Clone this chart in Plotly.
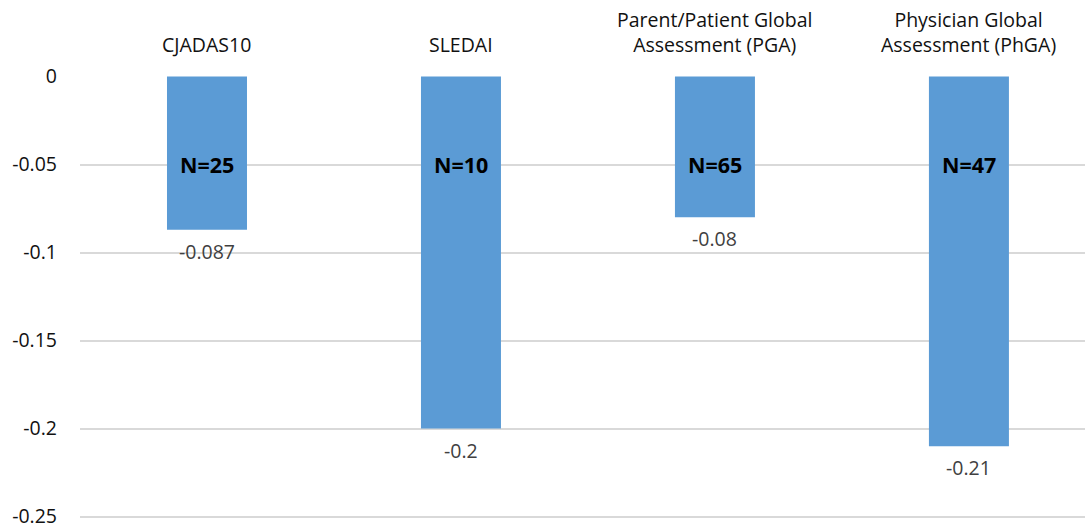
import plotly.graph_objects as go

categories = ["CJADAS10", "SLEDAI", "Parent/Patient Global<br>Assessment (PGA)",
              "Physician Global<br>Assessment (PhGA)"]
values = [-0.087, -0.2, -0.08, -0.21]
value_labels = ["-0.087", "-0.2", "-0.08", "-0.21"]
sample_sizes = ["N=25", "N=10", "N=65", "N=47"]
y_ticks = [0, -0.05, -0.1, -0.15, -0.2, -0.25]
y_tick_labels = ["0", "-0.05", "-0.1", "-0.15", "-0.2", "-0.25"]

FONT = "Open Sans, Liberation Sans, sans-serif"
positions = list(range(len(categories)))

fig = go.Figure()
fig.add_trace(go.Bar(
    x=positions, y=values, width=0.315,
    marker=dict(color="#5B9BD5", line=dict(width=0)),
    hoverinfo="skip",
))

annotations = []
for i, cat in enumerate(categories):
    # category title above the plot
    annotations.append(dict(
        x=i, y=1, xref="x", yref="paper", text=cat, showarrow=False,
        yanchor="bottom", yshift=16,
        font=dict(family=FONT, size=19.5, color="#111111"),
    ))
    # sample size inside the bar
    annotations.append(dict(
        x=i, y=-0.05, xref="x", yref="y", text="<b>" + sample_sizes[i] + "</b>",
        showarrow=False, font=dict(family=FONT, size=21.5, color="#000000"),
    ))
    # value label under the bar end
    annotations.append(dict(
        x=i, y=values[i], xref="x", yref="y", text=value_labels[i],
        showarrow=False, yanchor="top", yshift=-6,
        font=dict(family=FONT, size=19.5, color="#404040"),
    ))

fig.update_layout(
    width=1085, height=525,
    margin=dict(l=80, r=0, t=76, b=4, autoexpand=False),
    plot_bgcolor="white", paper_bgcolor="white",
    showlegend=False,
    annotations=annotations,
    xaxis=dict(range=[-0.5, 3.457], showticklabels=False, showgrid=False,
               zeroline=False, showline=False, fixedrange=True, automargin=False),
    yaxis=dict(range=[-0.2525, 0.0003], tickvals=y_ticks, ticktext=y_tick_labels,
               showgrid=True, gridcolor="#D9D9D9", gridwidth=1.5,
               zeroline=False, showline=False, ticks="", ticklabelstandoff=22,
               ticklabeloverflow="allow", automargin=False,
               tickfont=dict(family=FONT, size=19.5, color="#111111")),
)

fig.write_html("out.html")
